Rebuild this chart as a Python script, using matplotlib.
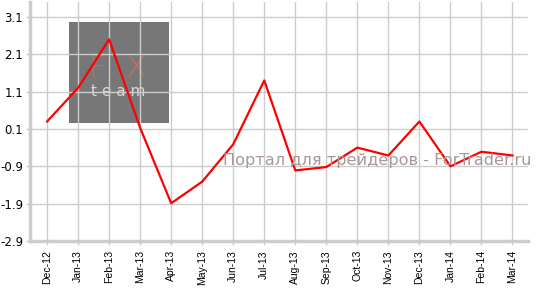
import numpy as np
import matplotlib.pyplot as plt
from matplotlib.patches import Rectangle

months = ['Dec-12', 'Jan-13', 'Feb-13', 'Mar-13', 'Apr-13', 'May-13', 'Jun-13', 'Jul-13',
          'Aug-13', 'Sep-13', 'Oct-13', 'Nov-13', 'Dec-13', 'Jan-14', 'Feb-14', 'Mar-14']
values = [0.30, 1.20, 2.50, 0.13, -1.89, -1.31, -0.31, 1.40,
          -1.01, -0.92, -0.40, -0.61, 0.30, -0.90, -0.51, -0.61]
yticks = [3.1, 2.1, 1.1, 0.1, -0.9, -1.9, -2.9]

W, H = 538, 301
fig = plt.figure(figsize=(W / 100, H / 100), dpi=100)
ax = fig.add_axes([30 / W, (H - 241) / H, 498 / W, 239 / H])

x = np.arange(len(months))
ax.set_xlim(-0.55, 15.5)
ax.set_ylim(-2.9, 3.5)

# logo box behind the grid
ax.add_patch(Rectangle((0.7, 0.1 + (128 - 121.7) / 37), 3.23, 100 / 37,
                       facecolor='#777777', edgecolor='none', zorder=0))
ax.text(2.3, 1.72, 'F  X', color='#c8705a', fontsize=22, ha='center', va='center',
        zorder=0.5, fontfamily='DejaVu Sans', fontweight='light', alpha=0.9)
ax.text(2.3, 1.1, 't e a m', color='#d8d8d8', fontsize=11, ha='center', va='center',
        zorder=0.5, fontfamily='DejaVu Sans')

ax.set_axisbelow(False)
ax.grid(True, color='#cccccc', linewidth=1, zorder=1)
ax.plot(x, values, color='#ff0000', linewidth=1.6, zorder=3)

fig.text(531 / W, 1 - 161 / H, 'Портал для трейдеров - ForTrader.ru',
         ha='right', va='center', fontsize=11.6, color='#a89898', zorder=4,
         fontfamily='DejaVu Sans')

ax.set_xticks(x)
ax.set_xticklabels(months, rotation=90, fontsize=7.5, fontfamily='Liberation Sans')
ax.set_yticks(yticks)
ax.set_yticklabels([f'{v:.1f}' for v in yticks], fontsize=8.5, fontfamily='DejaVu Sans')
ax.tick_params(axis='both', color='#cccccc', length=3, width=1)
ax.tick_params(axis='y', pad=2)

for side in ['top', 'right']:
    ax.spines[side].set_visible(False)
for side in ['left', 'bottom']:
    ax.spines[side].set_color('#cccccc')
    ax.spines[side].set_linewidth(2.5)

fig.savefig('out.png', dpi=100)
